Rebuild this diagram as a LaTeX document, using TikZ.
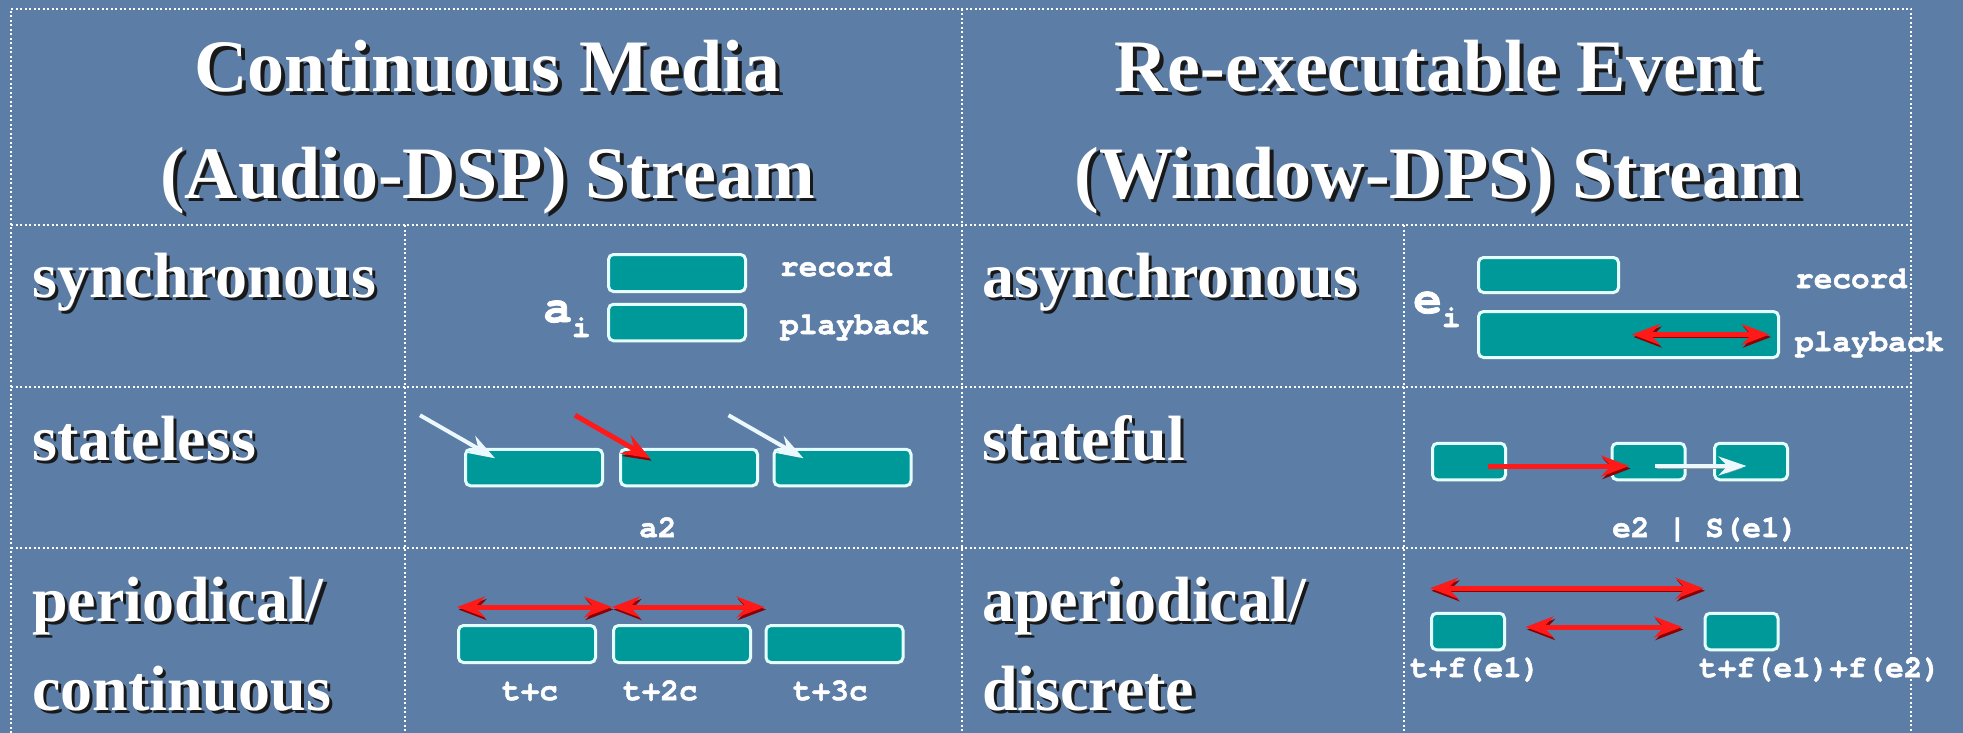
\documentclass[tikz,border=0pt]{standalone}
\usepackage{fontspec}
\setmainfont{Liberation Serif}
\setmonofont{texgyrecursor}[Extension=.otf,UprightFont=*-regular,BoldFont=*-bold,BoldFeatures={FakeBold=1.6}]
\usetikzlibrary{arrows.meta,shadows}
\definecolor{slide}{HTML}{5B7DA6}
\definecolor{segfill}{HTML}{009999}
\definecolor{segline}{HTML}{E4FFFF}
\definecolor{arrowred}{HTML}{FF1A1A}
\definecolor{arrowdark}{HTML}{8C0000}
\newcommand{\shtext}[1]{\makebox[0pt][l]{\hspace{.05em}\raisebox{-.05em}{\textcolor{black!90}{#1}}}#1}

\begin{document}
\begin{tikzpicture}[x=1pt,y=-1pt,
  tablerule/.style={white,line width=2pt,dash pattern=on 2pt off 2.5pt},
  headtext/.style={text=white,inner sep=0pt,anchor=base,font=\fontsize{74}{80}\selectfont\bfseries},
  rowlabel/.style={text=white,inner sep=0pt,anchor=base west,font=\fontsize{64}{70}\selectfont\bfseries},
  monotext/.style={text=white,inner sep=0pt,anchor=base west,font=\fontsize{31}{31}\selectfont\ttfamily\bfseries},
  segbox/.style={draw=segline,fill=segfill,line width=3pt,rounded corners=5pt,inner sep=0pt,
    minimum width=137pt,minimum height=36.5pt,drop shadow={shadow xshift=2pt,shadow yshift=-2pt,opacity=.4}},
  shortseg/.style={segbox,minimum width=73pt},
  redboth/.style={arrowred,line width=5pt,
    {Stealth[length=28pt,width=21pt,inset=10pt]}-{Stealth[length=28pt,width=21pt,inset=10pt]},
    preaction={draw=arrowdark,transform canvas={shift={(1.5pt,-2.5pt)}}}},
  redone/.style={arrowred,line width=5pt,-{Stealth[length=28pt,width=21pt,inset=10pt]},
    preaction={draw=arrowdark,transform canvas={shift={(1.5pt,-2.5pt)}}}},
  whiteone/.style={white!92!cyan,line width=4pt,-{Stealth[length=28pt,width=19pt,inset=9pt]},
    preaction={draw=gray!75,transform canvas={shift={(1.5pt,-2pt)}}}}]
  \fill[slide] (0,0) rectangle (1963,733);
  \useasboundingbox (0,0) rectangle (1963,733);
  \draw[tablerule] (11,733) -- (11,9) -- (1911,9) -- (1911,733);
  \draw[tablerule] (962,9) -- (962,733);
  \foreach \y in {225,387,548}
    \draw[tablerule] (11,\y) -- (1911,\y);
  \draw[tablerule] (405,225) -- (405,733);
  \draw[tablerule] (1404,225) -- (1404,733);

  \node[headtext] (cmtitle) at (487.5,92) {\shtext{Continuous Media}};
  \node[headtext] (cmsub) at (487.5,198) {\shtext{(Audio-DSP) Stream}};
  \node[headtext] (retitle) at (1438,92) {\shtext{Re-executable Event}};
  \node[headtext] (resub) at (1438,198) {\shtext{(Window-DPS) Stream}};

  \node[rowlabel] (syncl) at (32,297) {\shtext{synchronous}};
  \node[rowlabel] (asyncl) at (982,297) {\shtext{asynchronous}};
  \node[rowlabel] (statelessl) at (32,460) {\shtext{stateless}};
  \node[rowlabel] (statefull) at (982,460) {\shtext{stateful}};
  \node[rowlabel] (periodl) at (32,621) {\shtext{periodical/}};
  \node[rowlabel] (contl) at (32,710) {\shtext{continuous}};
  \node[rowlabel] (aperiodl) at (982,621) {\shtext{aperiodical/}};
  \node[rowlabel] (discl) at (982,710) {\shtext{discrete}};

  \node[segbox,minimum height=37pt] (rec) at (677,273) {};
  \node[segbox] (play) at (677,322.5) {};
  \node[segbox,minimum width=140pt,minimum height=35pt] (erec) at (1548.5,275) {};
  \node[segbox,minimum width=300pt,minimum height=46pt] (eplay) at (1628.5,334.5) {};
  \foreach \n/\x in {r1/534,r2/689,r3/842.5}
    \node[segbox] (\n) at (\x,467.5) {};
  \foreach \n/\x in {s1/1469,s2/1648.5,s3/1751}
    \node[shortseg] (\n) at (\x,461.5) {};
  \foreach \n/\x in {p1/527,p2/682,p3/834.5}
    \node[segbox,minimum height=37pt] (\n) at (\x,644) {};
  \node[shortseg] (u1) at (1468,631.5) {};
  \node[shortseg] (u2) at (1741.5,631.5) {};

  \node[monotext] (recl) at (780,276) {record};
  \node[monotext] (playl) at (780,334) {playback};
  \node[monotext] (ai) at (543,322) {{\fontsize{48}{48}\selectfont a}\raisebox{-15pt}{i}};
  \node[monotext] (erecl) at (1795,288) {record};
  \node[monotext] (eplayl) at (1795,351) {playback};
  \node[monotext] (ei) at (1413,313) {{\fontsize{48}{48}\selectfont e}\raisebox{-14pt}{i}};
  \node[monotext] (a2l) at (639,537) {a2};
  \node[monotext] (statel) at (1612,537) {e2 | S(e1)};
  \node[monotext] (tc1) at (502,700) {t+c};
  \node[monotext] (tc2) at (623,700) {t+2c};
  \node[monotext] (tc3) at (793,700) {t+3c};
  \node[monotext] (tf1) at (1410,677) {t+f(e1)};
  \node[monotext] (tf2) at (1699,677) {t+f(e1)+f(e2)};

  \draw[redboth] ([xshift=3.5pt]eplay.center) -- ([xshift=-10.5pt]eplay.east);
  \foreach \n/\s in {r1/whiteone,r2/redone,r3/whiteone}
    \draw[\s] ([shift={(-44pt,32.5pt)}]\n.north west) -- ([shift={(31pt,-10.5pt)}]\n.north west);
  \draw[redone] ([shift={(19pt,-4.5pt)}]s1.center) -- ([shift={(18.5pt,-4.5pt)}]s2.west);
  \draw[whiteone] ([shift={(6.5pt,-4.5pt)}]s2.center) -- ([shift={(33.5pt,-4.5pt)}]s3.west);
  \draw[redboth] ([yshift=17pt]p1.north west) -- ([yshift=17pt]p2.north west);
  \draw[redboth] ([yshift=17pt]p2.north west) -- ([yshift=17pt]p3.north west);
  \draw[redboth] ([yshift=23.5pt]u1.north west) -- ([yshift=23.5pt]u2.north west);
  \draw[redboth] ([shift={(19.5pt,4.5pt)}]u1.east) -- ([shift={(-21.5pt,4.5pt)}]u2.west);
\end{tikzpicture}
\end{document}
